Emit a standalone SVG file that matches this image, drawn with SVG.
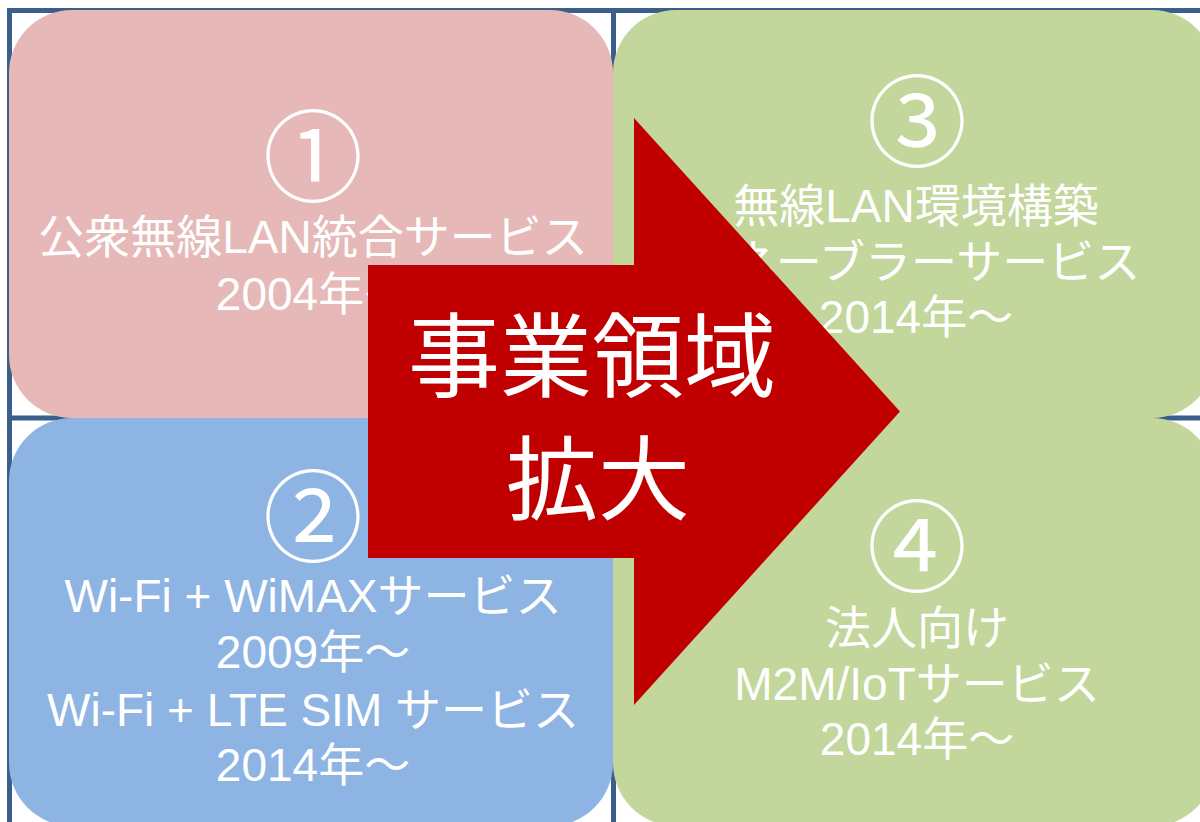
<svg xmlns="http://www.w3.org/2000/svg" width="1200" height="822" viewBox="0 0 1200 822">
<style>
.grid{stroke:#3A5F8B;stroke-width:5;fill:none}
.t{font-family:"Liberation Sans","Noto Sans CJK JP",sans-serif;fill:#FFFFFF;text-anchor:middle;font-size:46px}
.num{font-family:"Noto Sans CJK JP",sans-serif;fill:#FFFFFF;text-anchor:middle;font-size:100px}
.big{font-family:"Liberation Sans","Noto Sans CJK JP",sans-serif;fill:#FFFFFF;text-anchor:middle;font-size:92px}
</style>
<rect width="1200" height="822" fill="#FFFFFF"/>
<g id="grid">
<line class="grid" x1="7" y1="10.5" x2="1200" y2="10.5"/>
<line class="grid" x1="9.5" y1="8" x2="9.5" y2="822"/>
<line class="grid" x1="613.5" y1="8" x2="613.5" y2="822"/>
<line class="grid" x1="7" y1="418" x2="1200" y2="418"/>
</g>
<g id="node1">
<rect x="9" y="10" width="604" height="408" rx="63" fill="#E6B9B8"/>
<text class="num" x="313" y="194">①</text>
<text class="t" x="313" y="253">公衆無線LAN統合サービス</text>
<text class="t" x="313" y="310">2004年～</text>
</g>
<g id="node3">
<rect x="613" y="10" width="602" height="408" rx="63" fill="#C3D69B"/>
<text class="num" x="917" y="159">③</text>
<text class="t" x="916" y="222">無線LAN環境構築</text>
<text class="t" x="912" y="278">イネーブラーサービス</text>
<text class="t" x="916" y="333">2014年～</text>
</g>
<g id="node2">
<rect x="9" y="418" width="604" height="408" rx="63" fill="#8EB4E3"/>
<text class="num" x="313" y="554">②</text>
<text class="t" x="313" y="612">Wi-Fi + WiMAXサービス</text>
<text class="t" x="313" y="668">2009年～</text>
<text class="t" x="313" y="726">Wi-Fi + LTE SIM サービス</text>
<text class="t" x="313" y="781">2014年～</text>
</g>
<g id="node4">
<rect x="613" y="418" width="602" height="408" rx="63" fill="#C3D69B"/>
<text class="num" x="917" y="584">④</text>
<text class="t" x="917" y="644">法人向け</text>
<text class="t" x="917" y="700">M2M/IoTサービス</text>
<text class="t" x="917" y="755">2014年～</text>
</g>
<g id="arrow">
<polygon points="368,265 634,265 634,118 900,411.5 634,705 634,558 368,558" fill="#C00000"/>
<text class="big" x="592" y="390">事業領域</text>
<text class="big" x="598" y="513">拡大</text>
</g>
</svg>
